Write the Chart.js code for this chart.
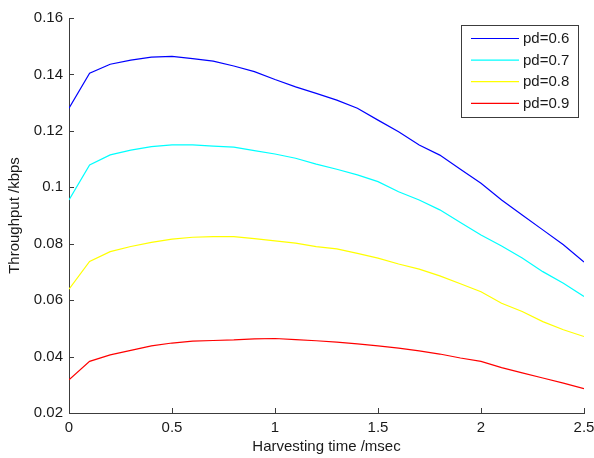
<!DOCTYPE html>
<html>
<head>
<meta charset="utf-8">
<title>Throughput vs harvesting time</title>
<script src="https://cdn.jsdelivr.net/npm/chart.js@4/dist/chart.umd.min.js"></script>
<style>
  html, body { margin: 0; padding: 0; background: #ffffff; }
  canvas { display: block; }
</style>
</head>
<body>
<canvas id="chart" width="594" height="458"></canvas>
<script>
// Harvesting time (msec), sampled every 0.1
const harvestTimes = [0, 0.1, 0.2, 0.3, 0.4, 0.5, 0.6, 0.7, 0.8, 0.9, 1.0, 1.1, 1.2,
  1.3, 1.4, 1.5, 1.6, 1.7, 1.8, 1.9, 2.0, 2.1, 2.2, 2.3, 2.4, 2.5];

// Throughput (kbps) for each detection probability
const pd06 = [0.1280, 0.1404, 0.1436, 0.1451, 0.1461, 0.1464, 0.1456, 0.1447, 0.1430,
  0.1410, 0.1382, 0.1356, 0.1333, 0.1309, 0.1280, 0.1238, 0.1197, 0.1150, 0.1114,
  0.1064, 0.1014, 0.0955, 0.0902, 0.0849, 0.0796, 0.0735];
const pd07 = [0.0955, 0.1079, 0.1115, 0.1132, 0.1144, 0.1150, 0.1150, 0.1146, 0.1142,
  0.1130, 0.1118, 0.1103, 0.1082, 0.1064, 0.1044, 0.1020, 0.0984, 0.0955, 0.0920,
  0.0875, 0.0831, 0.0792, 0.0749, 0.0701, 0.0660, 0.0613];
const pd08 = [0.0639, 0.0737, 0.0772, 0.0790, 0.0805, 0.0816, 0.0823, 0.0825, 0.0825,
  0.0818, 0.0810, 0.0802, 0.0790, 0.0782, 0.0766, 0.0749, 0.0728, 0.0710, 0.0686,
  0.0658, 0.0630, 0.0589, 0.0560, 0.0524, 0.0495, 0.0471];
const pd09 = [0.0318, 0.0383, 0.0406, 0.0422, 0.0438, 0.0448, 0.0455, 0.0457, 0.0459,
  0.0463, 0.0464, 0.0460, 0.0456, 0.0451, 0.0445, 0.0438, 0.0430, 0.0420, 0.0409,
  0.0395, 0.0383, 0.0361, 0.0342, 0.0324, 0.0306, 0.0286];

const seriesLabels = ['pd=0.6', 'pd=0.7', 'pd=0.8', 'pd=0.9'];
const seriesColors = ['#0000ff', '#00ffff', '#ffff00', '#ff0000'];
const seriesValues = [pd06, pd07, pd08, pd09];

const xTicks = [0, 0.5, 1, 1.5, 2, 2.5];
const yTicks = [0.02, 0.04, 0.06, 0.08, 0.1, 0.12, 0.14, 0.16];

const FONT = { family: '"Liberation Sans", Arial, sans-serif', size: 15 };
const AXIS_COLOR = '#3c3c3c';
const TEXT_COLOR = '#1a1a1a';

const datasets = seriesValues.map((vals, i) => ({
  label: seriesLabels[i],
  data: harvestTimes.map((t, k) => ({ x: t, y: vals[k] })),
  borderColor: seriesColors[i],
  backgroundColor: seriesColors[i],
  borderWidth: 1.2,
  pointRadius: 0,
  tension: 0,
  fill: false
}));

// Inward tick marks on both axes
const inwardTicks = {
  id: 'inwardTicks',
  afterDatasetsDraw(chart) {
    const { ctx, chartArea, scales } = chart;
    const len = 5;
    ctx.save();
    ctx.strokeStyle = AXIS_COLOR;
    ctx.lineWidth = 1;
    ctx.beginPath();
    xTicks.forEach(v => {
      const px = Math.round(scales.x.getPixelForValue(v)) + 0.5;
      ctx.moveTo(px, chartArea.bottom);
      ctx.lineTo(px, chartArea.bottom - len);
    });
    yTicks.forEach(v => {
      const py = Math.round(scales.y.getPixelForValue(v)) + 0.5;
      ctx.moveTo(chartArea.left, py);
      ctx.lineTo(chartArea.left + len, py);
    });
    ctx.stroke();
    ctx.restore();
  }
};

// Boxed legend in the upper right of the plot
const boxedLegend = {
  id: 'boxedLegend',
  afterDraw(chart) {
    const { ctx } = chart;
    const bx = 461.5, by = 25.5, bw = 117, bh = 92;
    ctx.save();
    ctx.fillStyle = '#ffffff';
    ctx.fillRect(bx, by, bw, bh);
    ctx.strokeStyle = AXIS_COLOR;
    ctx.lineWidth = 1;
    ctx.strokeRect(bx, by, bw, bh);
    ctx.font = FONT.size + 'px ' + FONT.family;
    ctx.textBaseline = 'middle';
    ctx.textAlign = 'left';
    chart.data.datasets.forEach((ds, i) => {
      const y = 38.5 + i * 21.6;
      ctx.strokeStyle = ds.borderColor;
      ctx.lineWidth = 1.2;
      ctx.beginPath();
      ctx.moveTo(471, y);
      ctx.lineTo(519, y);
      ctx.stroke();
      ctx.fillStyle = TEXT_COLOR;
      ctx.fillText(ds.label, 523, y + 0.5);
    });
    ctx.restore();
  }
};

new Chart(document.getElementById('chart'), {
  type: 'line',
  data: { datasets },
  options: {
    responsive: false,
    animation: false,
    layout: { padding: { left: 0, right: 10, top: 18, bottom: 0 } },
    plugins: {
      legend: { display: false },
      tooltip: { enabled: false }
    },
    scales: {
      x: {
        type: 'linear',
        min: 0,
        max: 2.5,
        afterBuildTicks: s => { s.ticks = xTicks.map(v => ({ value: v })); },
        afterFit: s => { s.height = 45; s.paddingLeft = 0; s.paddingRight = 0; },
        grid: { display: false, drawTicks: false },
        border: { display: true, color: AXIS_COLOR, width: 1 },
        ticks: {
          color: TEXT_COLOR,
          font: FONT,
          padding: 6,
          maxRotation: 0,
          autoSkip: false,
          callback: v => String(v)
        },
        title: {
          display: true,
          text: 'Harvesting time /msec',
          color: TEXT_COLOR,
          font: FONT,
          padding: { top: 0, bottom: 2 }
        }
      },
      y: {
        type: 'linear',
        min: 0.02,
        max: 0.16,
        afterBuildTicks: s => { s.ticks = yTicks.map(v => ({ value: v })); },
        afterFit: s => { s.width = 69; s.paddingTop = 0; s.paddingBottom = 0; },
        grid: { display: false, drawTicks: false },
        border: { display: true, color: AXIS_COLOR, width: 1 },
        ticks: {
          color: TEXT_COLOR,
          font: FONT,
          padding: 6,
          autoSkip: false,
          callback: v => String(Number(v.toFixed(2)))
        },
        title: {
          display: true,
          text: 'Throughput /kbps',
          color: TEXT_COLOR,
          font: FONT,
          padding: { top: 6, bottom: 0 }
        }
      }
    }
  },
  plugins: [inwardTicks, boxedLegend]
});
</script>
</body>
</html>
